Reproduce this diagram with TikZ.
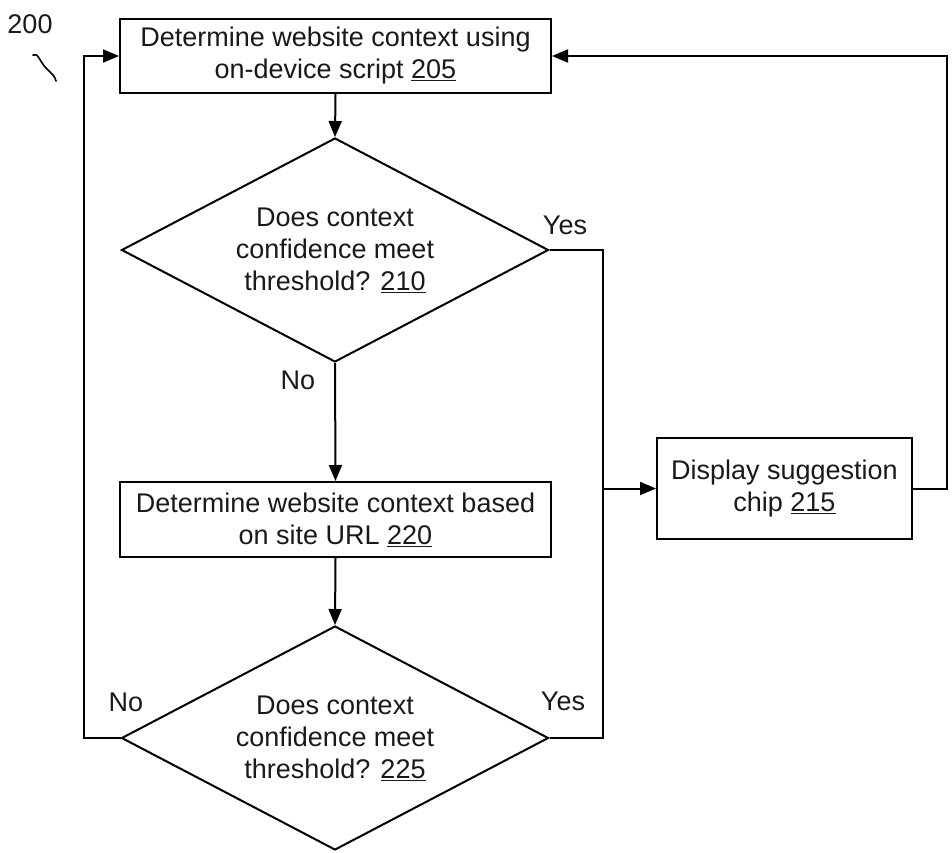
\documentclass[tikz,border=0pt]{standalone}
\usepackage{fontspec}
\setmainfont{Liberation Sans}
\usetikzlibrary{shapes.geometric,arrows.meta}
\begin{document}
\begin{tikzpicture}[x=1pt,y=-1pt,
  every node/.style={font=\fontsize{27}{32}\selectfont, text=black!90},
  box/.style={draw, line width=2pt, rectangle, align=center, inner sep=0pt},
  decision/.style={draw, line width=2pt, diamond, shape aspect=1.9, align=center, inner sep=0pt,
    minimum width=427pt, minimum height=224pt},
  conn/.style={line width=2pt},
  arr/.style={line width=2pt, -{Triangle[length=16pt,width=13pt]}},
  lbl/.style={inner sep=0pt}
]
\useasboundingbox (0,0) rectangle (952,852);

\node[box, minimum width=431pt, minimum height=74pt] (b205) at (335.5,56)
  {Determine website context using\\on-device script \underline{205}};
\node[decision] (d210) at (335,250)
  {Does context\\confidence meet\\threshold? \underline{210}};
\node[box, minimum width=431pt, minimum height=75pt] (b220) at (335.5,519.5)
  {Determine website context based\\on site URL \underline{220}};
\node[decision] (d225) at (335,738)
  {Does context\\confidence meet\\threshold? \underline{225}};
\node[box, minimum width=255pt, minimum height=101pt] (b215) at (784.5,488.5)
  {Display suggestion\\chip \underline{215}};

\node[lbl] (l200) at (30,24) {200};
\node[lbl] (lyes1) at (565,225) {Yes};
\node[lbl] (lno1) at (298,380) {No};
\node[lbl] (lno2) at (126,702) {No};
\node[lbl] (lyes2) at (563,701) {Yes};

\coordinate (jt) at (603,250);
\coordinate (jb) at (603,738);
\coordinate (rt) at (947,56);
\coordinate (rb) at (947,488.5);
\coordinate (lt) at (84,56);
\coordinate (lb) at (84,738);
\coordinate (s1) at (33,55);
\coordinate (s2) at (56,81);

\draw[arr] (b205.south) -- (d210.north);
\draw[arr] (d210.south) -- (b220.north);
\draw[arr] (b220.south) -- (d225.north);
\draw[conn] (d210.east) -- (jt) -- (jb) -- (d225.east);
\draw[arr] (jt |- b215.west) -- (b215.west);
\draw[arr] (b215.east) -- (rb) -- (rt) -- (b205.east);
\draw[arr] (d225.west) -- (lb) -- (lt) -- (b205.west);

\draw[line width=1.6pt, line cap=round] (s1) .. controls (38,52) and (40,62) .. (46,68) .. controls (52,74) and (55,76) .. (s2);
\end{tikzpicture}
\end{document}
